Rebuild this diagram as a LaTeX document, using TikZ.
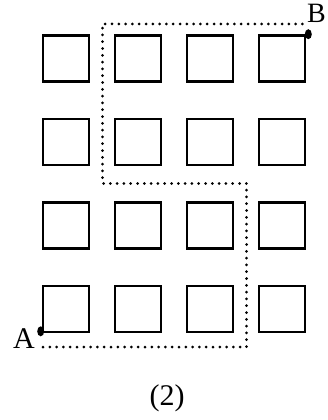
\documentclass[tikz,border=0pt]{standalone}
\usepackage{fontspec}
\setmainfont{Liberation Serif}
\usetikzlibrary{positioning,shapes.geometric}

\begin{document}
\begin{tikzpicture}[
x=1pt, y=-1pt,
cell/.style={draw, line width=2.6pt, minimum size=46pt, inner sep=0pt},
route/.style={line width=3pt, line cap=round, dash pattern=on 0pt off 6.8pt},
spot/.style={fill, ellipse, minimum width=7pt, minimum height=10pt, inner sep=0pt},
lab/.style={inner sep=0pt, font=\fontsize{30}{32}\selectfont}
]
\useasboundingbox (0,0) rectangle (328,420);
% grid of blocks
\foreach \i in {1,...,4}
  \foreach \j in {1,...,4}
    \node[cell] (c-\i-\j) at ({66+72*(\i-1)}, {58.5+83.5*(\j-1)}) {};
% end points
\node[spot] (ptA) at ([shift={(-1,-2)}]c-1-4.south west) {};
\node[spot] (ptB) at ([shift={(2,0)}]c-4-1.north east) {};
\node[lab, anchor=base] (labA) at (24,348) {A};
\node[lab, anchor=base east, font=\fontsize{28}{30}\selectfont] (labB) at (326,23) {B};
% dotted way from A to B
\coordinate (w0) at (43,347);
\coordinate (w1) at (246.5,347);
\coordinate (w2) at (246.5,183.5);
\coordinate (w3) at (102.5,183.5);
\coordinate (w4) at (102.5,24);
\coordinate (w5) at (303,24);
\draw[route] (w0) -- (w1) -- (w2) -- (w3) -- (w4) -- (w5);
\node[lab] (cap) at (167,398.5) {(2)};
\end{tikzpicture}
\end{document}
